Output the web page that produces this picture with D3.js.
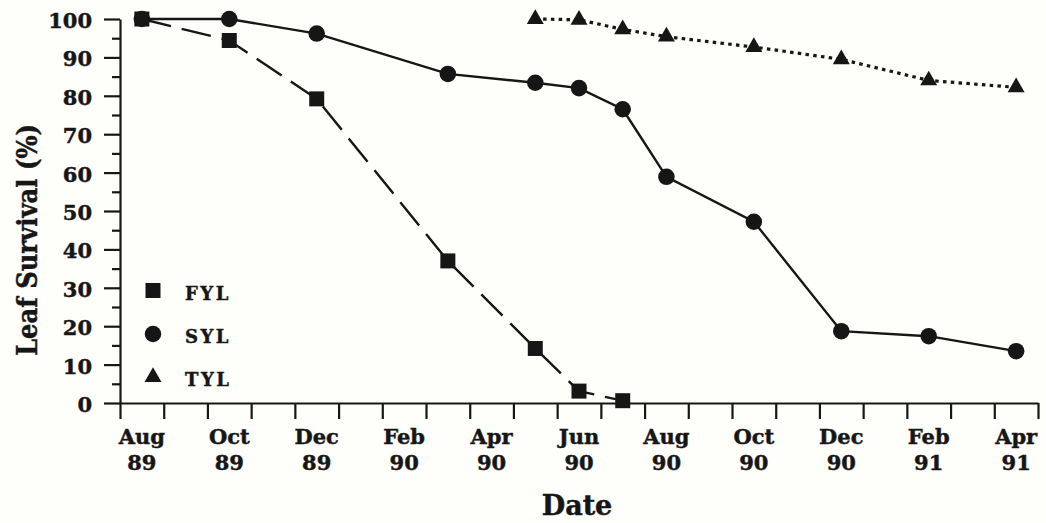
<!DOCTYPE html>
<html>
<head>
<meta charset="utf-8">
<script src="https://cdn.jsdelivr.net/npm/d3@7"></script>
<style>
  html, body { margin: 0; padding: 0; background: #fefefb; }
  svg { display: block; }
  .serif { font-family: "DejaVu Serif", serif; font-weight: bold; fill: #161616; stroke: #161616; stroke-width: 0.45; }
</style>
</head>
<body>
<svg id="chart" width="1046" height="523"></svg>
<script>
// Month index 0 = Aug 1989; each sample is plotted mid-month.
const monthLabels = ["Aug", "Oct", "Dec", "Feb", "Apr", "Jun", "Aug", "Oct", "Dec", "Feb", "Apr"];
const yearLabels  = ["89", "89", "89", "90", "90", "90", "90", "90", "90", "91", "91"];
const labelMonths = [0, 2, 4, 6, 8, 10, 12, 14, 16, 18, 20];
const monthBoundaries = d3.range(0, 22);

const yTicksMajor = d3.range(0, 101, 10);
const yTicksMinor = d3.range(5, 100, 10);

// First-year leaves
const fylMonths = [0, 2, 4, 7, 9, 10, 11];
const fylValues = [100, 94.4, 79.2, 37, 14.2, 3.1, 0.6];
// Second-year leaves
const sylMonths = [0, 2, 4, 7, 9, 10, 11, 12, 14, 16, 18, 20];
const sylValues = [100, 100, 96.2, 85.7, 83.4, 82, 76.5, 58.9, 47.2, 18.7, 17.4, 13.5];
// Third-year leaves
const tylMonths = [9, 10, 11, 12, 14, 16, 18, 20];
const tylValues = [100, 99.8, 97.3, 95.4, 92.7, 89.5, 84, 82.2];

const seriesNames = ["FYL", "SYL", "TYL"];

const ink = "#161616";
const svg = d3.select("#chart");

const x = d3.scaleLinear().domain([0, 21]).range([120, 1038]);
const y = d3.scaleLinear().domain([0, 100]).range([403, 19]);
const mid = m => x(m + 0.5);

// ---- axes ----
svg.append("g")
  .attr("transform", `translate(${x(0)},0)`)
  .call(d3.axisLeft(y).tickValues(yTicksMajor).tickSize(16).tickSizeOuter(0).tickFormat(""));
svg.append("g")
  .attr("transform", `translate(${x(0)},0)`)
  .call(d3.axisLeft(y).tickValues(yTicksMinor).tickSize(8).tickSizeOuter(0).tickFormat(""))
  .select(".domain").remove();

svg.append("g")
  .attr("transform", `translate(0,${y(0)})`)
  .call(d3.axisBottom(x).tickValues(monthBoundaries).tickSize(16).tickSizeOuter(0).tickFormat(""));

svg.selectAll(".domain, .tick line")
  .attr("stroke", ink).attr("stroke-width", 2.2);

// y tick labels
svg.append("g").selectAll("text")
  .data(yTicksMajor).join("text")
  .attr("class", "serif")
  .attr("x", 92)
  .attr("y", d => y(d) + 9)
  .attr("text-anchor", "end")
  .attr("font-size", 21)
  .text(d => d);

// x tick labels (two lines)
const xl = svg.append("g").selectAll("text")
  .data(labelMonths).join("text")
  .attr("class", "serif")
  .attr("font-size", 21)
  .attr("text-anchor", "middle")
  .attr("transform", d => `translate(${mid(d)},0)`);
xl.append("tspan").attr("x", 0).attr("y", 444).text((d, i) => monthLabels[i]);
xl.append("tspan").attr("x", 0).attr("y", 470).text((d, i) => yearLabels[i]);

// axis titles
svg.append("text")
  .attr("class", "serif")
  .attr("font-size", 27)
  .attr("text-anchor", "middle")
  .attr("x", 577).attr("y", 515)
  .text("Date");

svg.append("text")
  .attr("class", "serif")
  .attr("font-size", 27)
  .attr("text-anchor", "middle")
  .attr("textLength", 232)
  .attr("lengthAdjust", "spacingAndGlyphs")
  .attr("transform", "translate(37,240) rotate(-90)")
  .text("Leaf Survival (%)");

// ---- series ----
const line = d3.line().x(d => mid(d[0])).y(d => y(d[1]));
const zipped = (ms, vs) => ms.map((m, i) => [m, vs[i]]);

const fyl = zipped(fylMonths, fylValues);
const syl = zipped(sylMonths, sylValues);
const tyl = zipped(tylMonths, tylValues);

svg.append("path").datum(tyl).attr("d", line)
  .attr("fill", "none").attr("stroke", ink).attr("stroke-width", 3.2)
  .attr("stroke-dasharray", "3.5,4.3");
svg.append("path").datum(syl).attr("d", line)
  .attr("fill", "none").attr("stroke", ink).attr("stroke-width", 2.4);
svg.append("path").datum(fyl).attr("d", line)
  .attr("fill", "none").attr("stroke", ink).attr("stroke-width", 2.4)
  .attr("stroke-dasharray", "30,11");

const sq = d3.symbol(d3.symbolSquare, 225);
const circ = d3.symbol(d3.symbolCircle, 215);
const tri = d3.symbol(d3.symbolTriangle, 125);

svg.append("g").selectAll("path").data(syl).join("path")
  .attr("d", circ).attr("fill", ink)
  .attr("transform", d => `translate(${mid(d[0])},${y(d[1])})`);
svg.append("g").selectAll("path").data(tyl).join("path")
  .attr("d", tri).attr("fill", ink)
  .attr("transform", d => `translate(${mid(d[0])},${y(d[1])})`);
svg.append("g").selectAll("path").data(fyl).join("path")
  .attr("d", sq).attr("fill", ink)
  .attr("transform", d => `translate(${mid(d[0])},${y(d[1])})`);

// ---- legend ----
const legendSymbols = [sq, circ, tri];
const legendY = [290.5, 334, 377];
const lg = svg.append("g").selectAll("g").data(seriesNames).join("g")
  .attr("transform", (d, i) => `translate(153,${legendY[i]})`);
lg.append("path").attr("d", (d, i) => legendSymbols[i]()).attr("fill", ink);
lg.append("text")
  .attr("class", "serif")
  .attr("x", 32).attr("y", 9)
  .attr("font-size", 18)
  .attr("letter-spacing", 2.5)
  .text(d => d);
</script>
</body>
</html>
